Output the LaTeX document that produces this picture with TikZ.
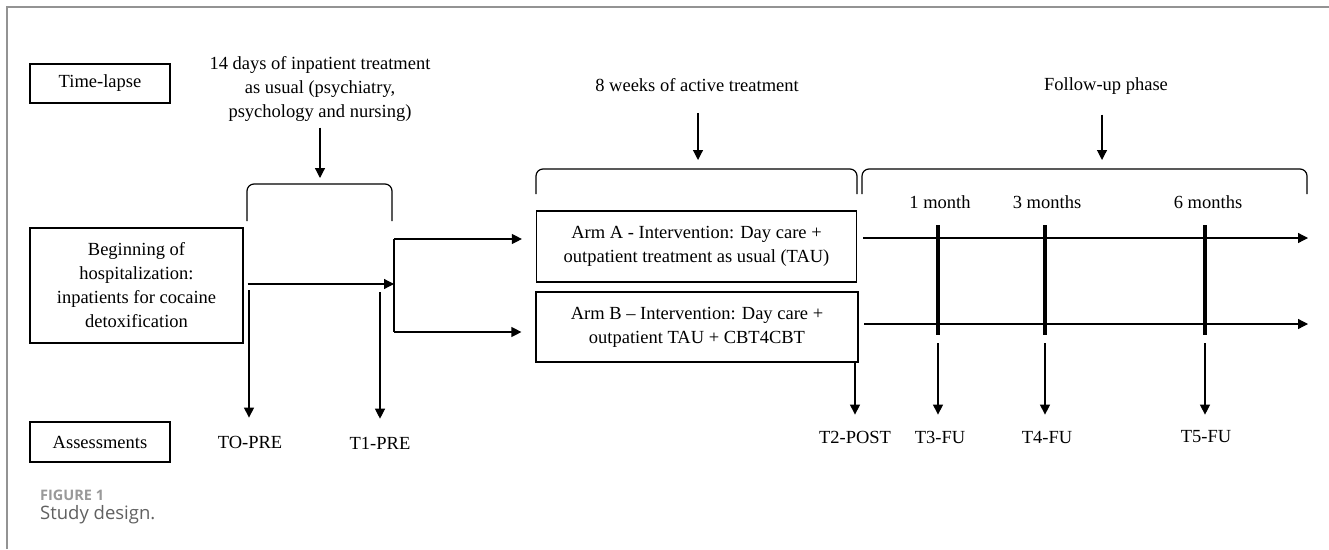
\documentclass[tikz,border=0pt]{standalone}
\usepackage{fontspec}
\setmainfont{Liberation Serif}
\newfontfamily\capfont{Open Sans}
\usetikzlibrary{arrows.meta}

\tikzset{
  box/.style={draw, line width=1.2pt, align=center, inner sep=2pt, font=\fontsize{18.5}{24}\selectfont},
  lbl/.style={align=center, inner sep=2pt, font=\fontsize{18.5}{24}\selectfont},
  arr/.style={line width=1.2pt, -{Triangle[length=10pt,width=10pt]}},
  plain/.style={line width=1.2pt},
  tick/.style={line width=4pt},
  brace/.style={line width=1.2pt, rounded corners=7pt},
  assarr/.style={arr, shorten >=14pt},
}

\begin{document}
\begin{tikzpicture}[x=1pt, y=-1pt]
        \useasboundingbox (0,0) rectangle (1329,549);
        % frame of the figure panel
        \draw[gray!85, line width=2pt] (7,549) -- (7,7) -- (1329,7);

        % row labels
        \node[box, minimum width=140pt, minimum height=39pt] (timelapse) at (100,83.5) {Time-lapse};
        \node[box, minimum width=140pt, minimum height=40pt] (assess) at (100,442) {Assessments};

        % boxes
        \node[box, minimum width=213pt, minimum height=115pt] (begin) at (136.5,285.5) {Beginning of\\hospitalization:\\inpatients for cocaine\\detoxification};
        \node[box, minimum width=320pt, minimum height=71pt] (armA) at (696.5,246.5) {Arm A - Intervention: Day care +\\outpatient treatment as usual (TAU)};
        \node[box, minimum width=322pt, minimum height=70pt] (armB) at (697,327) {Arm B -- Intervention: Day care +\\outpatient TAU + CBT4CBT};

        % time-lapse texts
        \node[lbl] (days) at (320,89) {14 days of inpatient treatment\\as usual (psychiatry,\\psychology and nursing)};
        \node[lbl] (weeks) at (697,85) {8 weeks of active treatment};
        \node[lbl] (follow) at (1106,86) {Follow-up phase};
        \node[lbl] (m1) at (940,202) {1 month};
        \node[lbl] (m3) at (1047,202) {3 months};
        \node[lbl] (m6) at (1208,202) {6 months};

        % assessment texts
        \node[lbl] (t0) at (250,442) {TO-PRE};
        \node[lbl] (t1) at (380,443) {T1-PRE};
        \node[lbl] (t2) at (855,437) {T2-POST};
        \node[lbl] (t3) at (940,437) {T3-FU};
        \node[lbl] (t4) at (1047,437) {T4-FU};
        \node[lbl] (t5) at (1206,437) {T5-FU};

        % brackets
        \draw[brace] (247,221) -- (247,184) -- (392,184) -- (392,221);
        \draw[brace] (536,194) -- (536,169) -- (857,169) -- (857,194);
        \draw[brace] (862,194) -- (862,169) -- (1307,169) -- (1307,194);
        \coordinate (br1) at (320,184);
        \coordinate (br2) at (698,169);
        \coordinate (br3) at (1102,169);
        \draw[arr, shorten <=4pt, shorten >=6pt] (days.south) -- (br1);
        \draw[arr, shorten <=19pt, shorten >=9pt] (weeks.south -| br2) -- (br2);
        \draw[arr, shorten <=18pt, shorten >=9pt] (follow.south -| br3) -- (br3);

        % split into the two arms
        \coordinate (split) at (394,284);
        \coordinate (splitA) at (394,239);
        \coordinate (splitB) at (394,332);
        \draw[arr, shorten <=4pt] (begin.east |- split) -- (split);
        \draw[plain] (splitA) -- (splitB);
        \draw[arr, shorten >=14pt] (splitA) -- (armA.west |- splitA);
        \draw[arr, shorten >=14pt] (splitB) -- (armB.west |- splitB);

        % follow-up timelines
        \coordinate (lineA) at (863,238);
        \coordinate (lineAend) at (1308,238);
        \coordinate (lineB) at (864,324);
        \coordinate (lineBend) at (1308,324);
        \draw[arr] (lineA) -- (lineAend);
        \draw[arr] (lineB) -- (lineBend);
        \draw[tick] (938,225) -- (938,335);
        \draw[tick] (1045,225) -- (1045,335);
        \draw[tick] (1205,225) -- (1205,335);

        % assessment arrows
        \coordinate (s0) at (249,290);
        \coordinate (s1) at (380,292);
        \coordinate (s3) at (938,343);
        \coordinate (s4) at (1045,343);
        \coordinate (s5) at (1205,343);
        \draw[arr, shorten >=16pt] (s0) -- (s0 |- t0.north);
        \draw[arr, shorten >=16pt] (s1) -- (s1 |- t1.north);
        \draw[assarr] (armB.south -| t2) -- (t2.north);
        \draw[assarr] (s3) -- (s3 |- t3.north);
        \draw[assarr] (s4) -- (s4 |- t4.north);
        \draw[assarr] (s5) -- (s5 |- t5.north);

        % caption
        \node[anchor=base west, inner sep=0pt, font=\capfont\bfseries\fontsize{14.5}{16}\selectfont, text=gray!80] (fig) at (40,500) {FIGURE 1};
        \node[anchor=base west, inner sep=0pt, font=\capfont\fontsize{18.5}{20}\selectfont, text=gray!75!black] (cap) at (40,519) {Study design.};
    \end{tikzpicture}
\end{document}
